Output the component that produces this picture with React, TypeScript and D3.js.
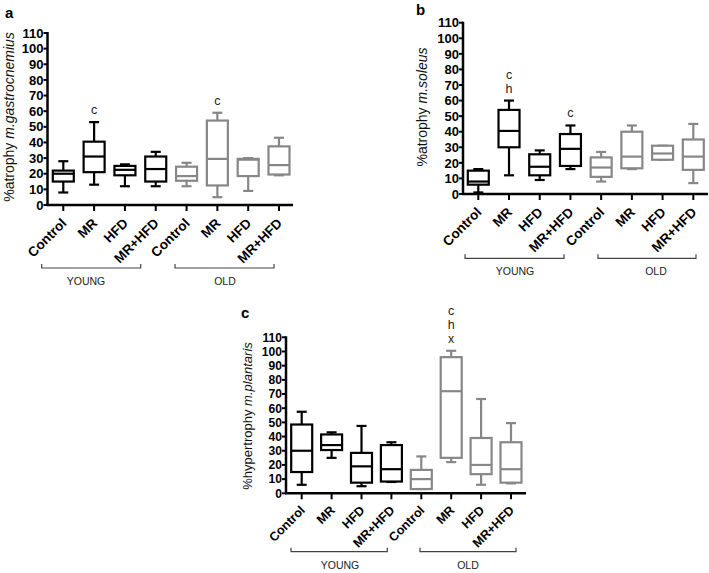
import React from "react";
import * as d3 from "d3";

const groupLabels = ["Control", "MR", "HFD", "MR+HFD", "Control", "MR", "HFD", "MR+HFD"];
const ageLabels = ["YOUNG", "OLD"];
const ageOfGroup = [0, 0, 0, 0, 1, 1, 1, 1];
const yTickValues = [0, 10, 20, 30, 40, 50, 60, 70, 80, 90, 100, 110];

// [min, q1, median, q3, max]
const gastrocnemiusBoxes = [
  [8, 15, 20, 22, 28],
  [13, 21, 31, 40.5, 53],
  [12, 19, 22.5, 25, 26],
  [12, 15, 23, 31, 34],
  [12, 15.5, 18.5, 24.5, 27],
  [5, 12.5, 29.5, 54, 59],
  [9, 18.5, 29, 29.5, 30],
  [19, 19.5, 25.5, 37.5, 43],
];
const soleusBoxes = [
  [1, 6, 8, 15, 16],
  [12, 30, 40.5, 54, 60],
  [9, 12, 17.5, 25.5, 28],
  [16, 18, 29, 38.5, 44],
  [8, 11, 17, 23.5, 27],
  [16, 16.5, 24, 40, 44],
  [22, 22, 26, 31, 31],
  [7, 15.5, 24, 35, 45],
];
const plantarisBoxes = [
  [6, 15, 30, 48.5, 57.5],
  [25, 30.5, 34, 41.5, 43],
  [5, 7.5, 19, 28.5, 47.5],
  [8, 8.3, 17, 34, 36],
  [3, 3, 10, 16.5, 26],
  [22, 25, 72, 96, 100.5],
  [6, 13.5, 20, 39, 66.5],
  [7, 7.5, 17, 36, 49.5],
];
const gastrocnemiusMarks = [[], ["c"], [], [], [], ["c"], [], []];
const soleusMarks = [[], ["c", "h"], [], ["c"], [], [], [], []];
const plantarisMarks = [[], [], [], [], [], ["c", "h", "x"], [], []];

const ageColors = ["#000000", "#878787"];
const FONT = "'Liberation Sans', Arial, Helvetica, sans-serif";

type Layout = {
  letter: string;
  letterX: number;
  letterY: number;
  axisX: number;
  axisEnd: number;
  xFirst: number;
  xLast: number;
  y0: number;
  yTop: number;
  yLabelX: number;
  yLabelY: number;
  yLabelPlain: string;
  yLabelItalic: string;
  fs: number;
  bracketY: number;
  brackets: [number, number, number][];
};

function Panel({ L, boxes, marks }: { L: Layout; boxes: number[][]; marks: string[][] }) {
  const y = d3.scaleLinear().domain([0, 110]).range([L.y0, L.yTop]);
  const x = d3
    .scalePoint<number>()
    .domain(d3.range(groupLabels.length))
    .range([L.xFirst, L.xLast]);
  const bw = 21;
  const cw = 10;
  const tickFs = 13 * L.fs;
  return (
    <g fontFamily={FONT}>
      <text x={L.letterX} y={L.letterY} fontSize={15} fontWeight="bold">
        {L.letter}
      </text>
      {/* y axis label */}
      <text
        transform={`translate(${L.yLabelX},${L.yLabelY}) rotate(-90)`}
        textAnchor="middle"
        fontSize={14 * L.fs}
        fill="#111"
      >
        {L.yLabelPlain}
        <tspan fontStyle="italic">{L.yLabelItalic}</tspan>
      </text>
      {/* y axis */}
      <line x1={L.axisX} x2={L.axisX} y1={y(0)} y2={y(110) - 1} stroke="#000" strokeWidth={2.5} />
      {yTickValues.map((t) => (
        <g key={t}>
          <line x1={L.axisX - 4} x2={L.axisX} y1={y(t)} y2={y(t)} stroke="#000" strokeWidth={2} />
          <text
            x={L.axisX - 4}
            y={y(t)}
            dy="0.36em"
            textAnchor="end"
            fontSize={tickFs}
            fontWeight="bold"
          >
            {t}
          </text>
        </g>
      ))}
      {/* x axis */}
      <line x1={L.axisX - 1} x2={L.axisEnd} y1={y(0)} y2={y(0)} stroke="#000" strokeWidth={2.5} />
      {groupLabels.map((g, i) => (
        <g key={i}>
          <line x1={x(i)} x2={x(i)} y1={y(0)} y2={y(0) + 6} stroke="#000" strokeWidth={2} />
          <text
            transform={`translate(${(x(i) as number) + 4},${y(0) + 19 * L.fs}) rotate(-45)`}
            textAnchor="end"
            fontSize={13.5 * L.fs}
            fontWeight="bold"
          >
            {g}
          </text>
        </g>
      ))}
      {/* boxes */}
      {boxes.map((b, i) => {
        const cx = x(i) as number;
        const col = ageColors[ageOfGroup[i]];
        const [mn, q1, md, q3, mx] = b;
        return (
          <g key={i} stroke={col} strokeWidth={2.2} fill="none">
            <line x1={cx} x2={cx} y1={y(mx)} y2={y(q3)} />
            <line x1={cx} x2={cx} y1={y(q1)} y2={y(mn)} />
            <line x1={cx - cw / 2} x2={cx + cw / 2} y1={y(mx)} y2={y(mx)} />
            <line x1={cx - cw / 2} x2={cx + cw / 2} y1={y(mn)} y2={y(mn)} />
            <rect x={cx - bw / 2} y={y(q3)} width={bw} height={Math.max(0.5, y(q1) - y(q3))} fill="#fff" />
            <line x1={cx - bw / 2} x2={cx + bw / 2} y1={y(md)} y2={y(md)} />
          </g>
        );
      })}
      {/* significance letters */}
      {marks.map((m, i) =>
        m.map((s, k) => (
          <text
            key={`${i}-${k}`}
            x={x(i)}
            y={y(boxes[i][4]) - 8 - (m.length - 1 - k) * 14}
            textAnchor="middle"
            fontSize={12.5}
            fill="#222"
          >
            {s}
          </text>
        ))
      )}
      {/* age brackets */}
      {L.brackets.map(([a, b2, tx], k) => (
        <g key={k}>
          <path
            d={`M${a},${L.bracketY - 4}V${L.bracketY}H${b2}V${L.bracketY - 4}`}
            fill="none"
            stroke="#444"
            strokeWidth={1.2}
          />
          <text x={tx} y={L.bracketY + 17} textAnchor="middle" fontSize={10.5} fill="#222">
            {ageLabels[k]}
          </text>
        </g>
      ))}
    </g>
  );
}

const layoutA: Layout = {
  letter: "a",
  letterX: 5,
  letterY: 18,
  axisX: 47.5,
  axisEnd: 293,
  xFirst: 63.3,
  xLast: 279,
  y0: 205,
  yTop: 33,
  yLabelX: 14,
  yLabelY: 117,
  yLabelPlain: "%atrophy ",
  yLabelItalic: "m.gastrocnemius",
  fs: 1,
  bracketY: 268,
  brackets: [
    [41.7, 140.7, 86],
    [175, 274, 225],
  ],
};
const layoutB: Layout = {
  letter: "b",
  letterX: 416,
  letterY: 15,
  axisX: 463,
  axisEnd: 708,
  xFirst: 478.3,
  xLast: 693.3,
  y0: 194,
  yTop: 22.7,
  yLabelX: 427,
  yLabelY: 107,
  yLabelPlain: "%atrophy ",
  yLabelItalic: "m.soleus",
  fs: 1,
  bracketY: 258.3,
  brackets: [
    [465, 564, 515],
    [598, 696, 656],
  ],
};
const layoutC: Layout = {
  letter: "c",
  letterX: 241,
  letterY: 318,
  axisX: 286,
  axisEnd: 526,
  xFirst: 301.7,
  xLast: 511,
  y0: 493.3,
  yTop: 337.3,
  yLabelX: 252,
  yLabelY: 416,
  yLabelPlain: "%hypertrophy ",
  yLabelItalic: "m.plantaris",
  fs: 0.93,
  bracketY: 551.7,
  brackets: [
    [291, 387.3, 340],
    [420, 516, 468],
  ],
};

export default function App() {
  return (
    <svg
      width={709}
      height={573}
      style={{ position: "absolute", left: 0, top: 0, background: "#fff" }}
    >
      <rect width={709} height={573} fill="#fff" />
      <Panel L={layoutA} boxes={gastrocnemiusBoxes} marks={gastrocnemiusMarks} />
      <Panel L={layoutB} boxes={soleusBoxes} marks={soleusMarks} />
      <Panel L={layoutC} boxes={plantarisBoxes} marks={plantarisMarks} />
    </svg>
  );
}
